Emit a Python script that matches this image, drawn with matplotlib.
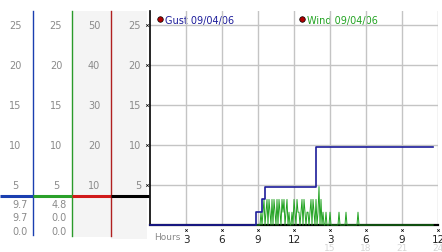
import numpy as np
import matplotlib
matplotlib.use('Agg')
import matplotlib.pyplot as plt
from matplotlib.patches import Rectangle
from matplotlib.transforms import blended_transform_factory

# gust (km/h), step series
gust_hours = [0.0, 8.8, 9.35, 9.6, 13.8, 23.6]
gust_vals = [0.0, 1.6, 3.2, 4.8, 9.7, 9.7]

# wind (km/h), 5 minute samples from 09:00 (one row per hour)
wind_start = 9.0
wind_vals = [0, 0, 0, 1.6, 0, 1.6, 3.2, 0, 1.6, 3.2, 0, 3.2,
             1.6, 0, 3.2, 0, 3.2, 1.6, 0, 3.2, 0, 3.2, 1.6, 0,
             3.2, 1.6, 3.2, 0, 1.6, 3.2, 0, 1.6, 0, 0, 1.6, 0,
             3.2, 1.6, 0, 3.2, 1.6, 1.6, 0, 1.6, 3.2, 0, 3.2, 1.6,
             0, 1.6, 1.6, 0, 1.6, 3.2, 0, 3.2, 1.6, 0, 3.2, 0,
             1.6, 4.8, 0, 3.2, 0, 1.6, 0, 0, 1.6, 0, 0, 0,
             1.6, 0, 0, 0, 0, 0, 0, 0, 0, 1.6, 0, 0,
             0, 0, 0, 0, 1.6, 0, 0, 0, 0, 0, 0, 0,
             0, 0, 0, 0, 1.6, 0, 0, 0, 0, 0, 0, 0]
wind_end = 23.6

# left-hand scale columns
col1_ticks = ['25', '20', '15', '10', '5']
col2_ticks = ['25', '20', '15', '10', '5']
col3_ticks = ['50', '40', '30', '20', '10']
col4_ticks = ['25', '20', '15', '10', '5']
tick_vals = [25, 20, 15, 10, 5]
gust_stats = ['9.7', '9.7', '0.0']
wind_stats = ['4.8', '0.0', '0.0']

hour_ticks = [3, 6, 9, 12, 15, 18, 21, 24]
hour_labels = ['3', '6', '9', '12', '3', '6', '9', '12']
faint_hours = [15, 18, 21, 24]
faint_labels = ['15', '18', '21', '24']

W, H = 442, 253
BLUE = '#1c1c9a'
GREEN = '#22a322'
GRAY = '#8a8a8a'

fig = plt.figure(figsize=(W / 100, H / 100), dpi=100)

bg = fig.add_axes([0, 0, 1, 1])
bg.set_xlim(0, W)
bg.set_ylim(H, 0)
bg.axis('off')

# main chart, y=0 at pixel 226, 8 px per unit, 12 px per hour
ax = fig.add_axes([150 / W, (H - 226) / H, 288 / W, 214 / H])
ax.set_xlim(0, 24)
ax.set_ylim(0, 214 / 8)
ax.set_facecolor('none')

# shaded columns
bg.add_patch(Rectangle((72, 12), 39, 226, color='#f4f4f4', lw=0))
bg.add_patch(Rectangle((111, 12), 36, 228, color='#f4f4f4', lw=0))

# column separators
bg.plot([33, 33], [12, 236], color='#1a3fb0', lw=1)
bg.plot([72, 72], [12, 237], color='#2a9a2a', lw=1)
bg.plot([111, 111], [12, 237], color='#b02020', lw=1)
bg.plot([0, 33], [197, 197], color='#1a3fb0', lw=2.2, solid_capstyle='butt')
bg.plot([33, 72], [197, 197], color='#2aa02a', lw=2.2, solid_capstyle='butt')
bg.plot([72, 111], [197, 197], color='#d01a1a', lw=2.2, solid_capstyle='butt')
bg.plot([111, 149], [197, 197], color='black', lw=2.2, solid_capstyle='butt')

tr = blended_transform_factory(bg.transData, ax.transData)
for v, a, b, c, d in zip(tick_vals, col1_ticks, col2_ticks, col3_ticks, col4_ticks):
    bg.text(15, v, a, transform=tr, ha='center', va='center', fontsize=7, color=GRAY)
    bg.text(56, v, b, transform=tr, ha='center', va='center', fontsize=7, color=GRAY)
    bg.text(94, v, c, transform=tr, ha='center', va='center', fontsize=7, color=GRAY)
    bg.text(141, v, d, transform=tr, ha='right', va='center', fontsize=7, color=GRAY)
    bg.plot(146.5, v, marker='x', ms=1.8, mew=0.5, color='black', transform=tr, clip_on=False)

for yy, g, w in zip([205, 218, 232], gust_stats, wind_stats):
    bg.text(28, yy, g, ha='right', va='center', fontsize=7, color=GRAY)
    bg.text(67, yy, w, ha='right', va='center', fontsize=7, color=GRAY)

# legend
bg.plot(160, 20, 'o', ms=4, color='#b00000', mec='black', mew=0.5)
bg.text(165, 20.5, 'Gust 09/04/06', color=BLUE, fontsize=7, va='center')
bg.plot(302, 20, 'o', ms=4, color='#b00000', mec='black', mew=0.5)
bg.text(307, 20.5, 'Wind 09/04/06', color=GREEN, fontsize=7, va='center')

# grid
ax.set_yticks(tick_vals)
ax.set_yticklabels([])
ax.set_xticks(hour_ticks)
ax.set_xticklabels(hour_labels)
ax.tick_params(length=0, pad=6.5, labelsize=7.5, labelcolor='#222222')
ax.grid(color='#c4c4c4', lw=1)
ax.set_axisbelow(True)
for s in ['top', 'right']:
    ax.spines[s].set_visible(False)
ax.spines['left'].set_color('black')
ax.spines['left'].set_linewidth(1.2)
ax.spines['bottom'].set_color('black')
ax.spines['bottom'].set_linewidth(1.6)

trx = blended_transform_factory(ax.transData, bg.transData)
for h in hour_ticks:
    bg.plot(h, 230.5, marker='x', ms=1.8, mew=0.5, color='black', transform=trx, clip_on=False)
for h, lab in zip(faint_hours, faint_labels):
    bg.text(h, 249, lab, transform=trx, ha='center', va='center', fontsize=6.5, color='#d6d6d6')
bg.text(154, 238, 'Hours', ha='left', va='center', fontsize=6.5, color=GRAY)

# data
wind_hours = [8.8] + [wind_start + i / 12 for i in range(len(wind_vals))] + [wind_end]
wind_y = [0] + wind_vals + [0]
ax.plot(wind_hours, wind_y, color=GREEN, lw=0.7, clip_on=False, zorder=3)
ax.step(gust_hours, gust_vals, where='post', color=BLUE, lw=1.2, clip_on=False, zorder=4)

fig.savefig('out.png', dpi=100)
